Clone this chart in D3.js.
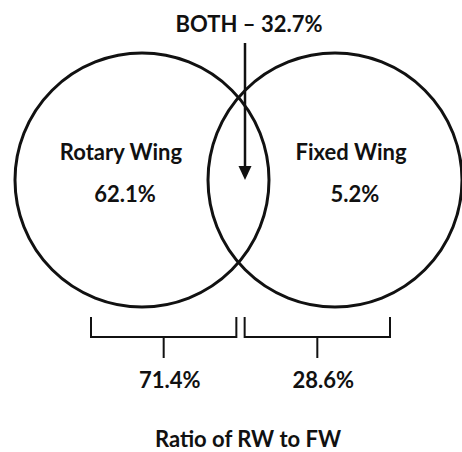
<!DOCTYPE html>
<meta charset="utf-8">
<html lang="en">
<head>
<title>Rotary vs Fixed Wing</title>
<style>
  body { margin: 0; background: #fff; }
  .lbl { font-family: Lato, "Open Sans", sans-serif; font-weight: bold; fill: #111; font-size: 22px; }
</style>
</head>
<body>
<div id="chart"></div>
<script src="https://d3js.org/d3.v7.min.js"></script>
<script>
// chart values
const sets = ["Rotary Wing", "Fixed Wing"];
const setShares = [62.1, 5.2];
const bothShare = 32.7;
const ratioShares = [71.4, 28.6];
const ratioTitle = "Ratio of RW to FW";

const width = 462, height = 452;
const R = 127;

const svg = d3.select("#chart").append("svg")
    .attr("width", width)
    .attr("height", height);

// circle centres
const cx = d3.scalePoint().domain(sets).range([142, 335]);
const cy = 180;

// brackets under the circles
const bx = d3.scaleBand().domain(sets).range([91, 390]).paddingInner(0.054);

const fmt = d => d3.format(".1f")(d) + "%";

svg.append("g").selectAll("circle")
    .data(sets)
    .enter().append("circle")
    .attr("cx", d => cx(d))
    .attr("cy", cy)
    .attr("r", R)
    .attr("fill", "none")
    .attr("stroke", "#111")
    .attr("stroke-width", 3);

// set names and shares
const lblOffset = { "Rotary Wing": -21, "Fixed Wing": 16 };
svg.append("g").selectAll("text")
    .data(sets)
    .enter().append("text")
    .attr("class", "lbl")
    .attr("x", d => cx(d) + lblOffset[d])
    .attr("y", 160)
    .attr("text-anchor", "middle")
    .text(d => d);

svg.append("g").selectAll("text")
    .data(setShares)
    .enter().append("text")
    .attr("class", "lbl")
    .attr("x", (d, i) => cx(sets[i]) + lblOffset[sets[i]] + 4)
    .attr("y", 202)
    .attr("text-anchor", "middle")
    .text(fmt);

// BOTH arrow
const ax = 245;
svg.append("text")
    .attr("class", "lbl")
    .attr("x", 249)
    .attr("y", 32)
    .attr("text-anchor", "middle")
    .text("BOTH \u2013 " + fmt(bothShare));

svg.append("line")
    .attr("x1", ax).attr("x2", ax)
    .attr("y1", 43).attr("y2", 168)
    .attr("stroke", "#111")
    .attr("stroke-width", 2.5);

svg.append("path")
    .attr("d", d3.line()([[ax - 6.5, 166], [ax + 6.5, 166], [ax, 180]]) + "Z")
    .attr("fill", "#111");

// brackets
const by0 = 317, by1 = 337, by2 = 358;
svg.append("g").selectAll("path")
    .data(sets)
    .enter().append("path")
    .attr("fill", "none")
    .attr("stroke", "#111")
    .attr("stroke-width", 2)
    .attr("d", d => {
        const x0 = bx(d), x1 = bx(d) + bx.bandwidth(), xm = (x0 + x1) / 2;
        return d3.line()([[x0, by0], [x0, by1], [x1, by1], [x1, by0]]) +
            d3.line()([[xm, by1], [xm, by2]]);
    });

svg.append("g").selectAll("text")
    .data(ratioShares)
    .enter().append("text")
    .attr("class", "lbl")
    .attr("x", (d, i) => bx(sets[i]) + bx.bandwidth() / 2 + 6)
    .attr("y", 388)
    .attr("text-anchor", "middle")
    .text(fmt);

svg.append("text")
    .attr("class", "lbl")
    .attr("x", 248)
    .attr("y", 447)
    .attr("text-anchor", "middle")
    .text(ratioTitle);
</script>
</body>
</html>
